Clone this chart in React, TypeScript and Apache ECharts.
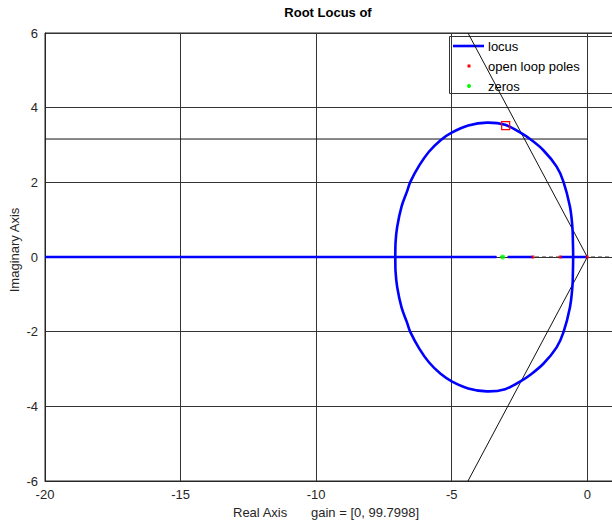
import React, { useEffect, useRef } from "react";
import * as echarts from "echarts";

// Axis ranges (real / imaginary)
const realRange = { min: -20, max: 2, step: 5 };
const imagRange = { min: -6, max: 6, step: 2 };

// Upper branch of the complex-pair locus, from the break-in point to the breakaway point
const upperArcRe = [-7.08, -7.07, -7.01, -6.85, -6.65, -6.52, -6.19, -5.84, -5.41, -5.0, -4.39, -3.7, -3.03, -2.42, -2.11, -1.62, -1.13, -0.88, -0.64, -0.55, -0.53, -0.52];
const upperArcIm = [0.0, 0.4, 0.81, 1.35, 1.75, 2.02, 2.46, 2.82, 3.13, 3.33, 3.52, 3.6, 3.54, 3.31, 3.16, 2.86, 2.42, 2.02, 1.35, 0.81, 0.4, 0.0];
// Lower branch, from the breakaway point back to the break-in point
const lowerArcRe = [-0.52, -0.53, -0.55, -0.64, -0.88, -1.13, -1.62, -2.11, -2.42, -3.03, -3.7, -4.39, -5.0, -5.41, -5.84, -6.19, -6.52, -6.65, -6.85, -7.01, -7.07, -7.08];
const lowerArcIm = [0.0, -0.4, -0.81, -1.35, -2.02, -2.42, -2.86, -3.16, -3.31, -3.54, -3.6, -3.52, -3.33, -3.13, -2.82, -2.46, -2.02, -1.75, -1.35, -0.81, -0.4, 0.0];

// Locus segments lying on the real axis: [start, end]
const realAxisSegments: [number, number][] = [
  [-20, -3.35],
  [-2.93, -2.0],
  [-1.0, 0.0],
];

const openLoopPoles = [0, -1, -2];
const zeros = [-3.12];

// Selected point on the locus
const selectedPoint: [number, number] = [-3.01, 3.52];

// Guide lines: constant-damping rays and a constant-frequency line
const dampingRayEnd = { re: -4.4, im: 6 };
const freqLineIm = 3.16;

const titleText = "Root Locus of";
const xLabelText = "Real Axis";
const gainText = "gain = [0, 99.7998]";
const yLabelText = "Imaginary Axis";
const legendLabels = ["locus", "open loop poles", "zeros"];

const FONT = "'Liberation Sans', Arial, Helvetica, sans-serif";
const TEXT_COLOR = "#262626";
const BLUE = "#0000ff";

// Closed Catmull-Rom curve through pixel points, as cubic Bezier path data
function closedSplinePath(pts: number[][]): string {
  const n = pts.length;
  const f = (v: number) => v.toFixed(2);
  let d = `M${f(pts[0][0])},${f(pts[0][1])}`;
  for (let i = 0; i < n; i++) {
    const p0 = pts[(i - 1 + n) % n];
    const p1 = pts[i];
    const p2 = pts[(i + 1) % n];
    const p3 = pts[(i + 2) % n];
    const c1x = p1[0] + (p2[0] - p0[0]) / 6;
    const c1y = p1[1] + (p2[1] - p0[1]) / 6;
    const c2x = p2[0] - (p3[0] - p1[0]) / 6;
    const c2y = p2[1] - (p3[1] - p1[1]) / 6;
    d += ` C${f(c1x)},${f(c1y)} ${f(c2x)},${f(c2y)} ${f(p2[0])},${f(p2[1])}`;
  }
  return d + " Z";
}

export default function App() {
  const ref = useRef<HTMLDivElement>(null);

  useEffect(() => {
    if (!ref.current) return;
    const chart = echarts.init(ref.current, undefined, { renderer: "svg" });

    const lineSeries = (data: number[][], color: string, width: number, extra: any = {}) => ({
      type: "line",
      data,
      symbol: "none",
      silent: true,
      lineStyle: { color, width, ...(extra.lineStyle || {}) },
      z: extra.z ?? 2,
    });

    // closed loop of the complex branches: upper arc, then the lower arc (shared end points dropped)
    const loop = [
      ...upperArcRe.map((re, i) => [re, upperArcIm[i]]),
      ...lowerArcRe.slice(1, -1).map((re, i) => [re, lowerArcIm[i + 1]]),
    ];

    const series: any[] = [
      // dashed real axis
      lineSeries([[realRange.min, 0], [realRange.max, 0]], "#333", 1.2, { lineStyle: { type: [4, 3] }, z: 1 }),
      // constant frequency line
      lineSeries([[realRange.min, freqLineIm], [0, freqLineIm]], "#111", 1, { z: 1 }),
      // damping rays
      lineSeries([[0, 0], [dampingRayEnd.re, dampingRayEnd.im]], "#111", 1, { z: 1 }),
      lineSeries([[0, 0], [dampingRayEnd.re, -dampingRayEnd.im]], "#111", 1, { z: 1 }),
      // complex branches of the locus
      {
        type: "custom",
        coordinateSystem: "cartesian2d",
        silent: true,
        z: 3,
        data: loop,
        renderItem: (params: any, api: any) => {
          if (params.dataIndex !== 0) return null;
          const pts = loop.map((p) => api.coord(p));
          return {
            type: "path",
            shape: { pathData: closedSplinePath(pts) },
            style: { fill: "none", stroke: BLUE, lineWidth: 2.6 },
          };
        },
      },
      // real-axis branches
      ...realAxisSegments.map((s) => lineSeries([[s[0], 0], [s[1], 0]], BLUE, 2.6, { z: 3 })),
      {
        type: "scatter",
        data: openLoopPoles.map((p) => [p, 0]),
        symbol: "rect",
        symbolSize: 3,
        itemStyle: { color: "#ff0000" },
        z: 5,
        silent: true,
      },
      {
        type: "scatter",
        data: zeros.map((z) => [z, 0]),
        symbol: "circle",
        symbolSize: 5,
        itemStyle: { color: "#00ff00" },
        z: 5,
        silent: true,
      },
      {
        type: "scatter",
        data: [selectedPoint],
        symbol: "rect",
        symbolSize: 8,
        itemStyle: { color: "rgba(255,255,255,0)", borderColor: "#ff0000", borderWidth: 1.2, opacity: 1 },
        z: 6,
        silent: true,
      },
    ];

    const legendX = 449.5;
    const legendY = 36.5;
    const legendRowY = [46, 66, 86];

    const graphic: any[] = [
      {
        type: "text",
        x: 328,
        y: 12,
        style: { text: titleText, font: `bold 13px ${FONT}`, fill: "#000", align: "center", verticalAlign: "middle" },
      },
      {
        type: "text",
        x: 233,
        y: 512,
        style: { text: xLabelText, font: `13px ${FONT}`, fill: TEXT_COLOR, align: "left", verticalAlign: "middle" },
      },
      {
        type: "text",
        x: 311,
        y: 512,
        style: { text: gainText, font: `13px ${FONT}`, fill: TEXT_COLOR, align: "left", verticalAlign: "middle" },
      },
      {
        type: "text",
        x: 14,
        y: 250,
        rotation: Math.PI / 2,
        style: { text: yLabelText, font: `13px ${FONT}`, fill: TEXT_COLOR, align: "center", verticalAlign: "middle" },
      },
      {
        type: "group",
        z: 100,
        children: [
          {
            type: "rect",
            shape: { x: legendX, y: legendY, width: 185, height: 57 },
            style: { fill: "#fff", stroke: "#333", lineWidth: 1 },
          },
          {
            type: "line",
            shape: { x1: 453, y1: legendRowY[0], x2: 484, y2: legendRowY[0] },
            style: { stroke: BLUE, lineWidth: 2.6 },
          },
          {
            type: "rect",
            shape: { x: 467.5, y: legendRowY[1] - 1.5, width: 3, height: 3 },
            style: { fill: "#ff0000" },
          },
          {
            type: "circle",
            shape: { cx: 469, cy: legendRowY[2], r: 2 },
            style: { fill: "#00ff00" },
          },
          ...legendLabels.map((t, i) => ({
            type: "text",
            x: 488,
            y: legendRowY[i],
            style: { text: t, font: `13px ${FONT}`, fill: "#000", align: "left", verticalAlign: "middle" },
          })),
        ],
      },
    ];

    chart.setOption({
      animation: false,
      textStyle: { fontFamily: FONT },
      grid: {
        left: 45,
        top: 33,
        width: 596.5,
        height: 448,
        outerBoundsMode: "none",
        containLabel: false,
        show: true,
        borderColor: "#262626",
        borderWidth: 1,
        backgroundColor: "#fff",
      },
      xAxis: {
        type: "value",
        min: realRange.min,
        max: realRange.max,
        interval: realRange.step,
        axisLine: { show: true, onZero: false, lineStyle: { color: "#262626", width: 1 } },
        axisTick: { show: false },
        splitLine: { show: true, lineStyle: { color: "#333", width: 1 } },
        axisLabel: {
          fontSize: 13,
          fontFamily: FONT,
          color: TEXT_COLOR,
          margin: 7,
          formatter: (v: number) => (v > 0 ? "" : String(v)),
        },
      },
      yAxis: {
        type: "value",
        min: imagRange.min,
        max: imagRange.max,
        interval: imagRange.step,
        axisLine: { show: true, onZero: false, lineStyle: { color: "#262626", width: 1 } },
        axisTick: { show: false },
        splitLine: { show: true, lineStyle: { color: "#333", width: 1 } },
        axisLabel: { fontSize: 13, fontFamily: FONT, color: TEXT_COLOR, margin: 7 },
      },
      series,
      graphic,
    });

    return () => chart.dispose();
  }, []);

  return (
    <div
      ref={ref}
      style={{ position: "fixed", left: 0, top: 0, width: 612, height: 521, background: "#fff" }}
    />
  );
}
